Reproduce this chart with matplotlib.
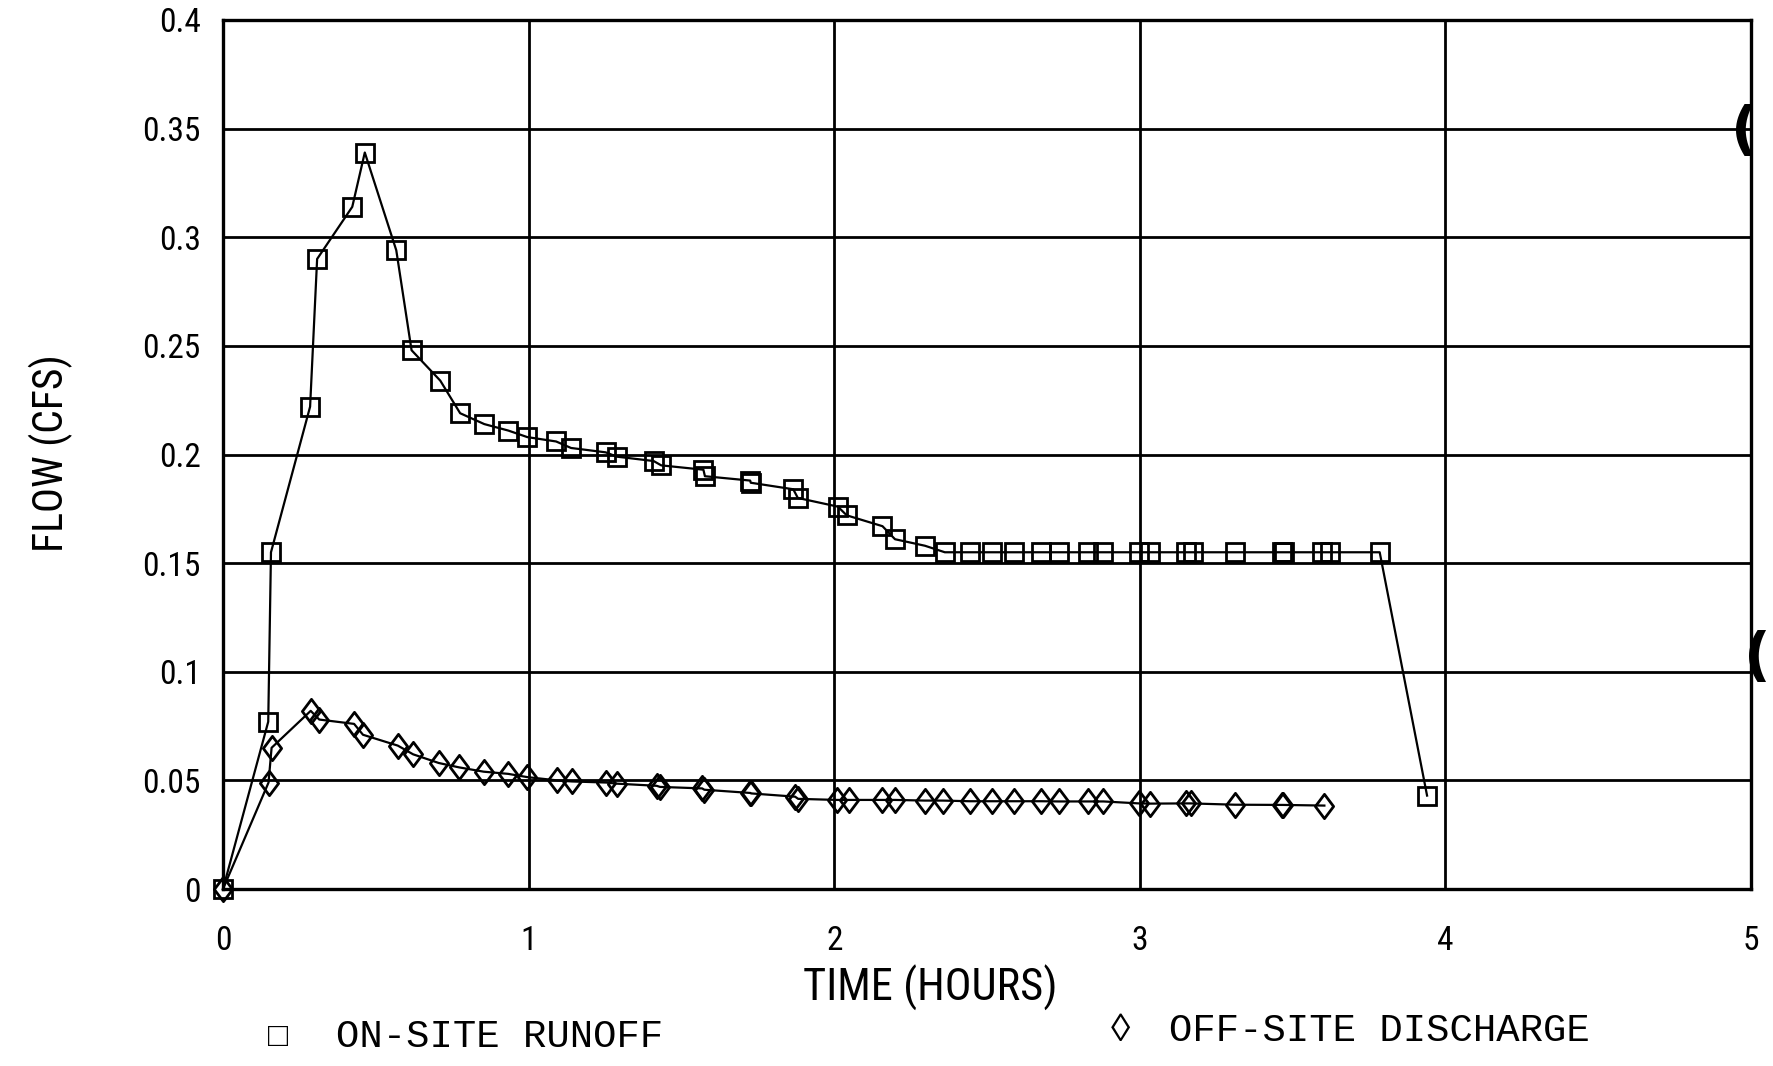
import matplotlib
matplotlib.use("Agg")
import matplotlib.pyplot as plt
from matplotlib import font_manager as fm
from matplotlib.path import Path

# ---------------- data ----------------
time_onsite = [0, 0.148, 0.157, 0.285, 0.308, 0.423, 0.464, 0.567, 0.617, 0.711,
               0.776, 0.855, 0.934, 0.996, 1.090, 1.139, 1.252, 1.289, 1.409, 1.434,
               1.572, 1.577, 1.725, 1.727, 1.866, 1.881, 2.012, 2.041, 2.158, 2.199,
               2.297, 2.362, 2.443, 2.516, 2.589, 2.676, 2.735, 2.830, 2.881, 2.997,
               3.034, 3.151, 3.173, 3.311, 3.464, 3.471, 3.595, 3.624, 3.785, 3.940]
flow_onsite = [0, 0.077, 0.155, 0.222, 0.290, 0.314, 0.339, 0.294, 0.248, 0.234,
               0.219, 0.214, 0.211, 0.208, 0.206, 0.203, 0.201, 0.199, 0.197, 0.195,
               0.193, 0.190, 0.188, 0.187, 0.184, 0.180, 0.176, 0.172, 0.167, 0.161,
               0.158, 0.155, 0.155, 0.155, 0.155, 0.155, 0.155, 0.155, 0.155, 0.155,
               0.155, 0.155, 0.155, 0.155, 0.155, 0.155, 0.155, 0.155, 0.155, 0.043]

time_offsite = [0, 0.149, 0.159, 0.287, 0.315, 0.429, 0.458, 0.572, 0.622, 0.706,
                0.772, 0.853, 0.933, 0.996, 1.093, 1.142, 1.254, 1.288, 1.419, 1.430,
                1.568, 1.575, 1.726, 1.728, 1.872, 1.882, 2.008, 2.047, 2.158, 2.199,
                2.297, 2.355, 2.443, 2.516, 2.589, 2.676, 2.735, 2.830, 2.881, 2.997,
                3.034, 3.151, 3.166, 3.311, 3.464, 3.468, 3.604]
flow_offsite = [0, 0.049, 0.065, 0.082, 0.078, 0.076, 0.071, 0.066, 0.062, 0.058,
                0.056, 0.054, 0.053, 0.0515, 0.050, 0.0495, 0.049, 0.0485, 0.0475, 0.047,
                0.0463, 0.0457, 0.0442, 0.044, 0.0425, 0.0415, 0.041, 0.041, 0.041, 0.041,
                0.0407, 0.0407, 0.0404, 0.0404, 0.0404, 0.0404, 0.0403, 0.0403, 0.0403, 0.0394,
                0.0393, 0.0394, 0.0394, 0.0388, 0.0387, 0.0387, 0.0384]

x_ticks = [0, 1, 2, 3, 4, 5]
x_ticklabels = ["0", "1", "2", "3", "4", "5"]
y_ticks = [0, 0.05, 0.1, 0.15, 0.2, 0.25, 0.3, 0.35, 0.4]
y_ticklabels = ["0", "0.05", "0.1", "0.15", "0.2", "0.25", "0.3", "0.35", "0.4"]
x_label = "TIME (HOURS)"
y_label = "FLOW (CFS)"
legend_onsite = "ON-SITE RUNOFF"
legend_offsite = "OFF-SITE DISCHARGE"

# ---------------- fonts ----------------
available = {f.name for f in fm.fontManager.ttflist}
narrow = None
for cand in ["Liberation Sans Narrow", "Arial Narrow", "Roboto Condensed",
             "Open Sans Condensed", "DejaVu Sans Condensed"]:
    if cand in available:
        narrow = cand
        break
if narrow is None:
    narrow_family = ["DejaVu Sans"]
    tick_fs, lab_fs = 19, 22
else:
    narrow_family = [narrow, "DejaVu Sans"]
    tick_fs, lab_fs = 24, 27
mono_family = ["Liberation Mono", "DejaVu Sans Mono"]

# ---------------- figure ----------------
W, H = 1774, 1066
fig = plt.figure(figsize=(W / 100, H / 100), dpi=100)
fig.patch.set_facecolor("white")
ax = fig.add_axes([223 / W, 1 - 889 / H, (1751 - 223) / W, (889 - 20) / H])

diamond = Path([(0, 1), (0.75, 0), (0, -1), (-0.75, 0), (0, 1)],
               [Path.MOVETO, Path.LINETO, Path.LINETO, Path.LINETO, Path.CLOSEPOLY])

ax.plot(time_onsite, flow_onsite, color="black", lw=1.6, marker="s", ms=13.5,
        mfc="none", mec="black", mew=2.0, zorder=3, clip_on=False)
ax.plot(time_offsite, flow_offsite, color="black", lw=1.6, marker=diamond, ms=17.5,
        mfc="none", mec="black", mew=2.0, zorder=3, clip_on=False)

ax.set_xlim(0, 5)
ax.set_ylim(0, 0.4)
ax.set_xticks(x_ticks)
ax.set_xticklabels(x_ticklabels, family=narrow_family, fontsize=tick_fs)
ax.set_yticks(y_ticks)
ax.set_yticklabels(y_ticklabels, family=narrow_family, fontsize=tick_fs)
ax.tick_params(axis="both", length=0)
ax.tick_params(axis="x", pad=26)
ax.tick_params(axis="y", pad=16)
ax.grid(True, color="black", lw=2.0)
ax.set_axisbelow(True)
for sp in ax.spines.values():
    sp.set_color("black")
    sp.set_linewidth(2.4)

fig.text(930 / W, 1 - 988 / H, x_label, family=narrow_family, fontsize=lab_fs + 5,
         ha="center", va="center")
fig.text(51 / W, 1 - 453 / H, y_label, family=narrow_family, fontsize=lab_fs + 3,
         ha="center", va="center", rotation=90)

# legend text (typewriter style)
fig.text(278 / W, 1 - 1037 / H, "\u25a1", family=mono_family, fontsize=24,
         fontweight="bold", ha="center", va="center")
fig.text(336 / W, 1 - 1037 / H, legend_onsite, family=mono_family, fontsize=28,
         ha="left", va="center")
fig.text(1121 / W, 1 - 1031 / H, "\u25ca", family=mono_family, fontsize=28,
         ha="center", va="center")
fig.text(1169 / W, 1 - 1031 / H, legend_offsite, family=mono_family, fontsize=28,
         ha="left", va="center")

# scan artefacts at right edge (binder hole shadows)
fig.text(1744 / W, 1 - 133 / H, "(", fontsize=42, fontweight="bold",
         ha="center", va="center", color="black")
fig.text(1771 / W, 1 - 658 / H, "(", fontsize=42, fontweight="bold",
         ha="right", va="center", color="black")

fig.savefig("out.png", dpi=100, facecolor="white")
